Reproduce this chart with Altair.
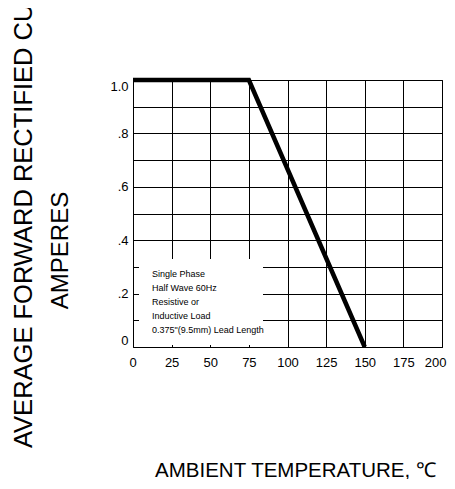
import altair as alt
import pandas as pd

# Derating curve
temps = [0, 75, 150]
current = [1.0, 1.0, 0.0]

x_ticks = [0, 25, 50, 75, 100, 125, 150, 175, 200]
y_ticks = [0, 0.1, 0.2, 0.3, 0.4, 0.5, 0.6, 0.7, 0.8, 0.9, 1.0]

note_lines = ["Single Phase", "Half Wave 60Hz", "Resistive or",
              "Inductive Load", '0.375"(9.5mm)  Lead Length']

y_title_1 = "AVERAGE FORWARD RECTIFIED CURRENT,"
y_title_2 = "AMPERES"
x_title = "AMBIENT TEMPERATURE, \u2103"

df = pd.DataFrame({"temp": temps, "amps": current})
one = pd.DataFrame({"k": [0]})

SANS = "Liberation Sans, Arial, sans-serif"

y_label_expr = ("datum.value == 1 ? '1.0' : (round(datum.value*10) % 2 == 0 ? "
                "(datum.value == 0 ? '0' : '.' + round(datum.value*10)) : '')")

line = alt.Chart(df).mark_line(color="black", strokeWidth=4.5, strokeCap="butt").encode(
    x=alt.X("temp:Q",
            scale=alt.Scale(domain=[0, 200], nice=False, zero=False),
            axis=alt.Axis(values=x_ticks, title=x_title, grid=True,
                          labelFont=SANS, labelFontSize=13, labelPadding=9,
                          labelColor="black", labelFlush=True, labelFlushOffset=4,
                          titleFont=SANS, titleFontSize=20.5, titleFontWeight="normal",
                          titleColor="black", titleX=162, titleY=129,
                          titleAlign="center", titleBaseline="alphabetic")),
    y=alt.Y("amps:Q",
            scale=alt.Scale(domain=[0, 1.0], nice=False),
            axis=alt.Axis(values=y_ticks, labelExpr=y_label_expr, grid=True,
                          labelFont=SANS, labelFontSize=13, labelPadding=5,
                          labelColor="black", labelFlush=True,
                          title=y_title_2, titleFont=SANS, titleFontSize=24,
                          titleFontWeight="normal", titleColor="black",
                          titleAngle=270, titleX=-73, titleY=170,
                          titleAlign="center", titleBaseline="middle")),
)

box = alt.Chart(one).mark_rect(fill="white").encode(
    x=alt.value(6), x2=alt.value(130), y=alt.value(179), y2=alt.value(265)
)

note = alt.Chart(one).mark_text(
    text=note_lines, align="left", baseline="alphabetic", lineHeight=14,
    font=SANS, fontSize=9, color="black"
).encode(x=alt.value(19), y=alt.value(197))

title1 = alt.Chart(one).mark_text(
    text=y_title_1, angle=270, align="left", baseline="middle",
    font=SANS, fontSize=25.5, color="black"
).encode(x=alt.value(-109), y=alt.value(368))

top_rule = alt.Chart(one).mark_rule(color="black", strokeWidth=3).encode(
    x=alt.value(-37), x2=alt.value(320), y=alt.value(-78.5)
)

chart = alt.layer(box, line, note, title1, top_rule).properties(
    width=309, height=267,
    autosize=alt.AutoSizeParams(type="none"),
    padding={"left": 125, "top": 72, "right": 5, "bottom": 132},
    background="white",
).configure_view(
    stroke="black", strokeWidth=1
).configure_axis(
    gridColor="black", gridOpacity=1, gridWidth=1,
    domain=False, ticks=False,
)

chart.save("out.html", embed_options={"renderer": "svg", "actions": False})
